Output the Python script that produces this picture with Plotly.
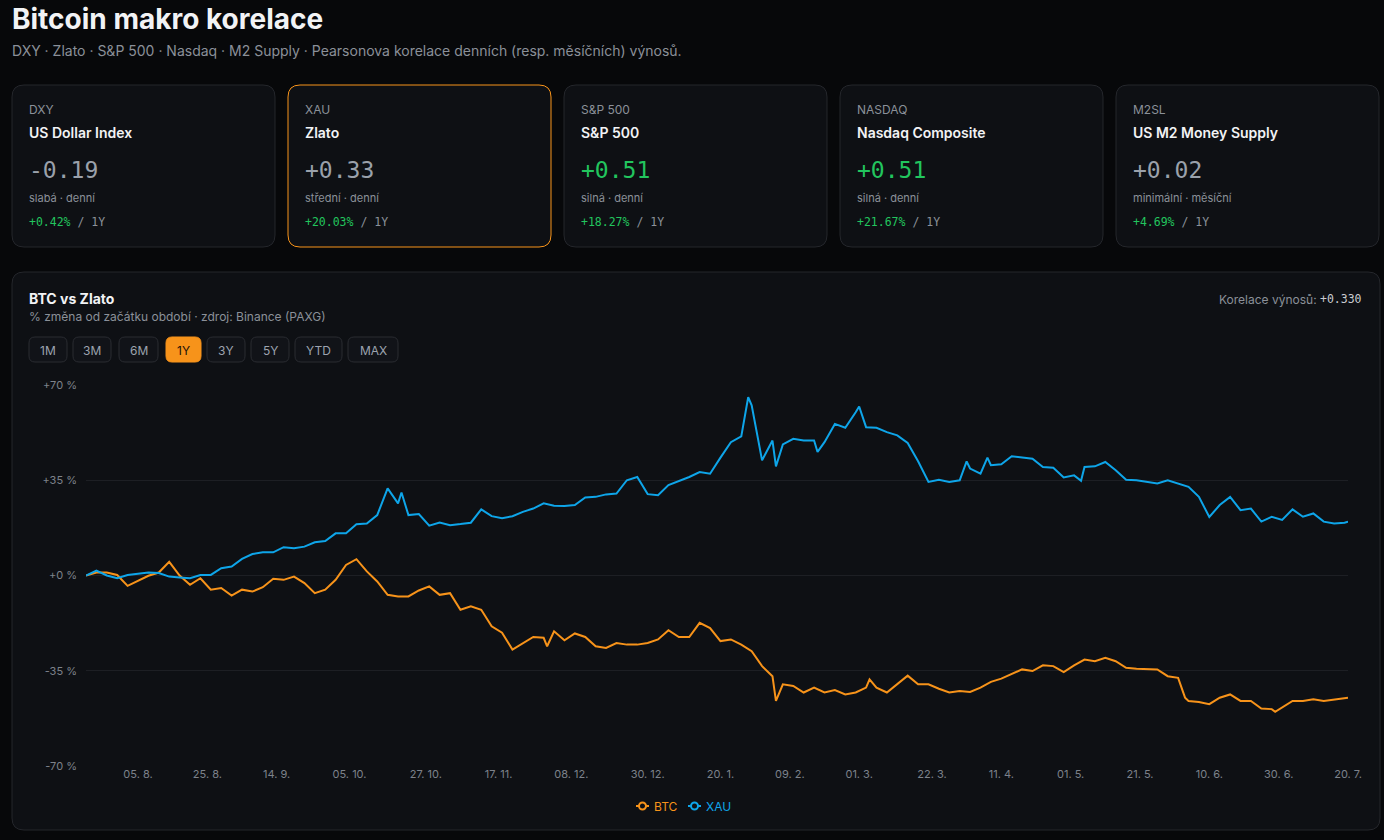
import plotly.graph_objects as go
import pandas as pd

# ---------------- data ----------------
tickers = ["DXY", "XAU", "S&P 500", "NASDAQ", "M2SL"]
names = ["US Dollar Index", "Zlato", "S&P 500", "Nasdaq Composite", "US M2 Money Supply"]
corrs = [-0.19, 0.33, 0.51, 0.51, 0.02]
strengths = ["slabá · denní", "střední · denní", "silná · denní", "silná · denní", "minimální · měsíční"]
changes_1y = [0.42, 20.03, 18.27, 21.67, 4.69]
selected_card = 1

periods = ["1M", "3M", "6M", "1Y", "3Y", "5Y", "YTD", "MAX"]
active_period = "1Y"
return_corr = 0.330

start_date = "2024-07-21"   # first point, then one reading every 3 days
xau_grid = [
    0.0, 1.8, 0.0, -1.0, 0.2, 0.6, 1.1, 0.9, -0.4, -0.7,
    -1.0, 0.2, 0.2, 2.7, 3.3, 6.1, 7.9, 8.5, 8.5, 10.4,
    10.0, 10.6, 12.2, 12.7, 15.5, 15.5, 18.8, 19.1, 22.2, 32.0,
    26.5, 22.2, 22.6, 18.3, 19.5, 18.5, 18.9, 19.4, 24.3, 21.8,
    21.0, 21.8, 23.4, 24.6, 26.5, 25.6, 25.5, 25.9, 28.7, 28.9,
    29.8, 30.1, 35.0, 36.2, 29.9, 29.5, 33.2, 34.6, 36.2, 38.0,
    37.4, 43.3, 49.0, 51.1, 62.5, 42.3, 49.6, 48.2, 50.2, 49.6,
    49.6, 49.0, 55.7, 54.3, 60.0, 54.5, 54.3, 52.7, 51.5, 48.7,
    42.0, 34.4, 35.2, 34.4, 35.0, 39.3, 37.4, 40.5, 40.9, 43.8,
    43.3, 42.9, 39.9, 39.6, 36.0, 36.8, 39.9, 40.1, 41.7, 38.7,
    35.2, 35.0, 34.4, 33.8, 35.0, 33.8, 32.6, 28.9, 21.5, 25.9,
    28.9, 24.0, 24.6, 19.8, 21.6, 20.4, 24.3, 21.6, 22.8, 19.8,
    19.1, 19.4,
]
btc_grid = [
    0.0, 1.1, 1.1, 0.2, -3.8, -2.0, -0.1, 1.1, 5.0, 0.0,
    -3.4, -1.0, -5.2, -4.6, -7.4, -5.2, -5.9, -4.3, -1.2, -1.6,
    -0.4, -2.8, -6.5, -5.2, -1.6, 3.9, 6.0, 1.5, -2.2, -7.1,
    -7.7, -7.7, -5.5, -4.0, -7.1, -6.5, -12.6, -11.3, -12.6, -18.7,
    -21.0, -27.2, -24.8, -22.6, -22.9, -20.5, -23.8, -21.3, -22.6, -26.0,
    -26.6, -24.8, -25.4, -25.4, -24.8, -23.5, -20.1, -22.6, -22.6, -17.4,
    -19.3, -24.1, -23.5, -25.4, -27.8, -33.3, -37.0, -40.0, -40.6, -43.0,
    -41.2, -43.0, -42.1, -43.7, -43.0, -41.2, -41.2, -43.0, -40.0, -36.8,
    -40.0, -40.0, -41.6, -43.0, -42.4, -42.8, -41.2, -39.1, -37.9, -36.3,
    -34.5, -35.1, -33.0, -33.3, -35.5, -33.0, -30.9, -31.5, -30.2, -31.5,
    -33.9, -34.3, -34.5, -34.5, -37.0, -37.6, -46.1, -46.5, -47.3, -44.9,
    -43.7, -46.1, -46.1, -48.9, -49.1, -48.5, -46.1, -46.1, -45.5, -46.1,
    -45.5, -44.9,
]
# extra readings at spikes / last day
xau_extra_dates = ["2024-10-20", "2025-01-28", "2025-02-05", "2025-02-17", "2025-03-01",
                   "2025-04-01", "2025-04-07", "2025-05-04", "2025-07-20"]
xau_extra_vals = [30.5, 65.5, 40.1, 45.4, 62.1, 41.9, 43.3, 34.8, 19.8]
btc_extra_dates = ["2024-12-01", "2025-02-05", "2025-03-04", "2025-06-03", "2025-06-29", "2025-07-20"]
btc_extra_vals = [-26.0, -46.1, -38.2, -44.9, -50.1, -44.9]

x_tick_dates = ["2024-08-05", "2024-08-25", "2024-09-14", "2024-10-05", "2024-10-27", "2024-11-17",
                "2024-12-08", "2024-12-30", "2025-01-20", "2025-02-09", "2025-03-01", "2025-03-22",
                "2025-04-11", "2025-05-01", "2025-05-21", "2025-06-10", "2025-06-30", "2025-07-20"]
x_tick_text = ["05. 8.", "25. 8.", "14. 9.", "05. 10.", "27. 10.", "17. 11.", "08. 12.", "30. 12.",
               "20. 1.", "09. 2.", "01. 3.", "22. 3.", "11. 4.", "01. 5.", "21. 5.", "10. 6.",
               "30. 6.", "20. 7."]
y_tick_vals = [-70, -35, 0, 35, 70]
y_tick_text = ["-70 %", "-35 %", "+0 %", "+35 %", "+70 %"]


def build_series(grid, extra_dates, extra_vals):
    t0 = pd.Timestamp(start_date)
    d = [t0 + pd.Timedelta(days=3 * i) for i in range(len(grid))]
    s = pd.Series(list(grid) + list(extra_vals), index=d + [pd.Timestamp(x) for x in extra_dates])
    s = s[~s.index.duplicated(keep="last")].sort_index()
    return s


btc = build_series(btc_grid, btc_extra_dates, btc_extra_vals)
xau = build_series(xau_grid, xau_extra_dates, xau_extra_vals)

# ---------------- style ----------------
W, H = 1384, 840
PL, PR, PT, PB = 86, 1348, 385, 766
BG = "#07080a"
CARD_BG = "#0e1014"
BORDER = "#24262b"
GRID = "#1d1f24"
ORANGE = "#f7931a"
BLUE = "#0ea5e9"
GREEN = "#22c55e"
MUTED = "#8b9099"
WHITE = "#f2f3f5"
SANS = "Inter, 'Noto Sans', sans-serif"
MONO = "'DejaVu Sans Mono', monospace"


def px(x):
    return (x - PL) / (PR - PL)


def py(y):
    return (PB - y) / (PB - PT)


def rrect(x0, y0, x1, y1, r):
    p = (f"M {px(x0 + r)},{py(y0)} L {px(x1 - r)},{py(y0)} Q {px(x1)},{py(y0)} {px(x1)},{py(y0 + r)} "
         f"L {px(x1)},{py(y1 - r)} Q {px(x1)},{py(y1)} {px(x1 - r)},{py(y1)} "
         f"L {px(x0 + r)},{py(y1)} Q {px(x0)},{py(y1)} {px(x0)},{py(y1 - r)} "
         f"L {px(x0)},{py(y0 + r)} Q {px(x0)},{py(y0)} {px(x0 + r)},{py(y0)} Z")
    return p


shapes = []
annotations = []


def text(x, y, s, size, color, family=SANS, weight=400, anchor="left"):
    annotations.append(dict(x=px(x), y=py(y), xref="paper", yref="paper", text=s, showarrow=False,
                            xanchor=anchor, yanchor="middle", borderpad=0,
                            font=dict(size=size, color=color, family=family, weight=weight)))


def box(x0, y0, x1, y1, r, fill, line, lw=1):
    shapes.append(dict(type="path", xref="paper", yref="paper", path=rrect(x0, y0, x1, y1, r),
                       fillcolor=fill, line=dict(color=line, width=lw), layer="below"))


# header
text(11, 19, "Bitcoin makro korelace", 28, WHITE, weight=700)
text(11, 50, "DXY · Zlato · S&P 500 · Nasdaq · M2 Supply · Pearsonova korelace denních (resp. měsíčních) výnosů.",
     14, MUTED)

# cards
for i in range(len(tickers)):
    x0 = 12 + i * 276
    box(x0, 85, x0 + 263, 247, 12, CARD_BG, ORANGE if i == selected_card else BORDER)
    tx = x0 + 16
    text(tx, 109, tickers[i], 12, MUTED)
    text(tx, 132, names[i], 14, WHITE, weight=600)
    vcol = GREEN if abs(corrs[i]) >= 0.5 else "#9aa1ab"
    text(tx, 170, f"{corrs[i]:+.2f}", 23, vcol, family=MONO)
    text(tx, 198, strengths[i], 11, MUTED)
    text(tx, 222, f"<span style='color:{GREEN}'>{changes_1y[i]:+.2f}%</span> / 1Y", 11.5, MUTED, family=MONO)

# chart panel
box(12, 272, 1380, 830, 12, CARD_BG, BORDER)
text(28, 298, "BTC vs Zlato", 14, WHITE, weight=700)
text(28, 316, "% změna od začátku období · zdroj: Binance (PAXG)", 12, MUTED)
text(1363, 299, f"{return_corr:+.3f}", 11.5, "#c9ccd1", family=MONO, anchor="right")
text(1318, 299, "Korelace výnosů:", 12, MUTED, anchor="right")

btn_x = [(29, 67), (73, 111), (119, 158), (166, 201), (207, 245), (251, 289), (295, 342), (348, 398)]
for lab, (a, b) in zip(periods, btn_x):
    act = lab == active_period
    box(a, 337, b, 362, 6, ORANGE if act else "#111318", ORANGE if act else "#2a2c31")
    text((a + b) / 2, 350, lab, 12, "#1a1208" if act else "#9ca3af", anchor="center")

# manual legend
for (x0, col, lab) in [(636, ORANGE, "BTC"), (688, BLUE, "XAU")]:
    shapes.append(dict(type="line", xref="paper", yref="paper", x0=px(x0), x1=px(x0 + 13),
                       y0=py(806), y1=py(806), line=dict(color=col, width=2), layer="above"))
    shapes.append(dict(type="circle", xref="paper", yref="paper", x0=px(x0 + 3), x1=px(x0 + 10),
                       y0=py(802.5), y1=py(809.5), fillcolor=CARD_BG, line=dict(color=col, width=2),
                       layer="above"))
    text(x0 + 17, 806, lab, 12, col)

fig = go.Figure()
fig.add_trace(go.Scatter(x=btc.index, y=btc.values, mode="lines", name="BTC",
                         line=dict(color=ORANGE, width=2), showlegend=False))
fig.add_trace(go.Scatter(x=xau.index, y=xau.values, mode="lines", name="XAU",
                         line=dict(color=BLUE, width=2), showlegend=False))

fig.update_layout(
    width=W, height=H,
    margin=dict(l=PL, r=W - PR, t=PT, b=H - PB, autoexpand=False),
    paper_bgcolor=BG, plot_bgcolor="rgba(0,0,0,0)",
    font=dict(family=SANS, color=MUTED),
    shapes=shapes, annotations=annotations,
    hovermode=False, showlegend=False,
)
fig.update_xaxes(type="date", range=[start_date, "2025-07-20"], tickvals=x_tick_dates, ticktext=x_tick_text,
                 showgrid=False, zeroline=False, showline=False, ticks="",
                 tickfont=dict(size=11, color="#7d828b", family=SANS), fixedrange=True)
fig.update_yaxes(range=[-70, 70], tickvals=y_tick_vals, ticktext=y_tick_text, showgrid=True,
                 gridcolor=GRID, gridwidth=1, zeroline=False, showline=False, ticks="",
                 ticklabelstandoff=8,
                 tickfont=dict(size=11, color="#7d828b", family=SANS), fixedrange=True)

fig.write_html("out.html", config={"displayModeBar": False})
